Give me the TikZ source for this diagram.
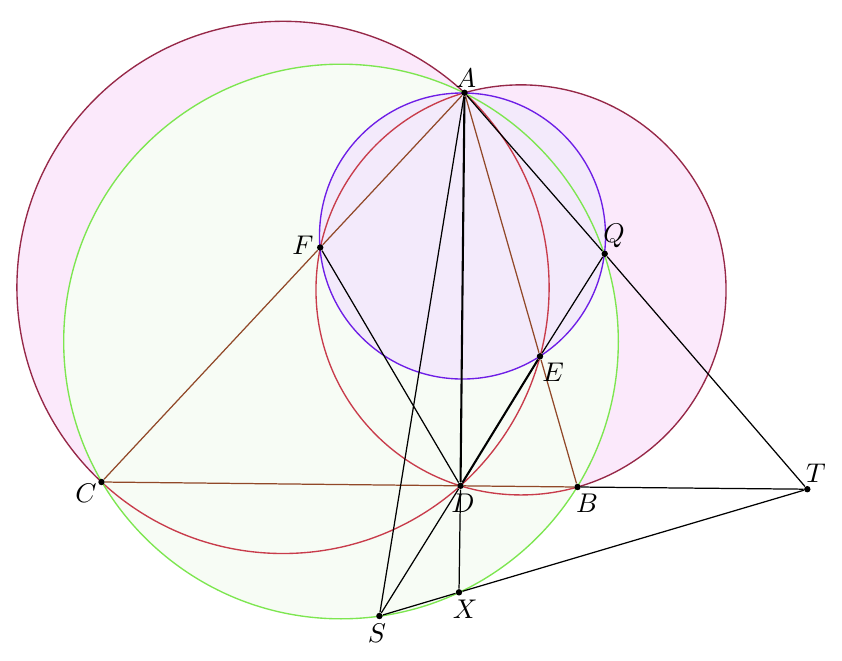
\documentclass[tikz,border=0pt]{standalone}
\usepackage{xcolor}
\definecolor{pinkf}{RGB}{251,233,251}
\definecolor{maroonc}{RGB}{150,40,72}
\definecolor{redc}{RGB}{200,60,75}
\definecolor{greenf}{RGB}{247,252,245}
\definecolor{greenc}{RGB}{125,230,80}
\definecolor{purplef}{RGB}{243,234,251}
\definecolor{purplec}{RGB}{110,30,230}
\definecolor{brownc}{RGB}{145,72,40}
\begin{document}
\begin{tikzpicture}[x=0.405pt,y=-0.405pt,
  dot/.style={circle,fill=black,inner sep=0pt,minimum size=2.6pt},
  lab/.style={inner sep=0pt,font=\fontsize{10.95}{13}\selectfont},
  bl/.style={black,line width=0.5pt},
  blt/.style={black,line width=0.85pt},
  br/.style={brownc,line width=0.5pt},
  circ/.style={line width=0.55pt}]
\useasboundingbox (0,0) rectangle (842,660);
% centres
\coordinate (O1) at (283,287.4);
\coordinate (O2) at (521,289.9);
\coordinate (O) at (341,341.5);
\coordinate (M) at (462.5,236);
% circles
\fill[pinkf] (O1) circle[radius=107.77pt];
\fill[pinkf] (O2) circle[radius=83.04pt];
\draw[maroonc,circ] (O1) circle[radius=107.77pt];
\draw[maroonc,circ] (O2) circle[radius=83.04pt];
\fill[greenf] (O) circle[radius=112.31pt];
\fill[purplef] (M) circle[radius=57.92pt];
\begin{scope}
  \clip (O) circle[radius=112.31pt];
  \draw[redc,circ] (O1) circle[radius=107.77pt];
  \draw[redc,circ] (O2) circle[radius=83.04pt];
\end{scope}
\draw[greenc,circ] (O) circle[radius=112.31pt];
\draw[purplec,circ] (M) circle[radius=57.92pt];
% points
\node[dot] (A) at (464.5,92.8) {};
\node[dot] (C) at (101.5,482) {};
\node[dot] (B) at (577.5,487) {};
\node[dot] (D) at (460.5,485.8) {};
\node[dot] (E) at (540,356.3) {};
\node[dot] (F) at (320.2,247.5) {};
\node[dot] (Q) at (604.7,253.8) {};
\node[dot] (T) at (807.3,489.2) {};
\node[dot] (X) at (459,592.3) {};
\node[dot] (S) at (379.4,616) {};
% brown triangle
\draw[br] (A) -- (F) -- (C) -- (D) -- (B) -- (E) -- (A);
% black lines
\draw[blt] (A) -- (D);
\draw[bl] (D) -- (X);
\draw[bl] (A) -- (S);
\draw[bl] (A) -- (Q) -- (T);
\draw[bl] (F) -- (D);
\draw[blt] (D) -- (E);
\draw[bl] (E) -- (Q);
\draw[bl] (D) -- (S);
\draw[bl] (B) -- (T);
\draw[bl] (S) -- (X) -- (T);
% labels
\node[lab] (lA) at (466,78) {$A$};
\node[lab] (lF) at (303,245) {$F$};
\node[lab] (lQ) at (614,236) {$Q$};
\node[lab] (lE) at (553,372) {$E$};
\node[lab] (lC) at (86,493) {$C$};
\node[lab] (lD) at (463,503) {$D$};
\node[lab] (lB) at (587,503) {$B$};
\node[lab] (lT) at (816,473) {$T$};
\node[lab] (lX) at (465,609) {$X$};
\node[lab] (lS) at (377,633) {$S$};
\end{tikzpicture}
\end{document}
